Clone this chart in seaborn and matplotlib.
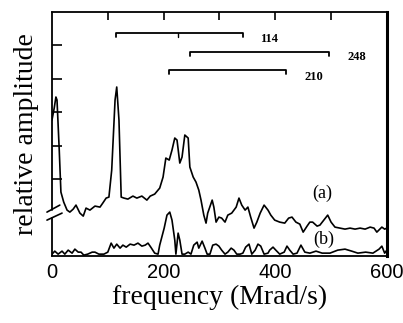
import matplotlib
matplotlib.use("Agg")
import matplotlib.pyplot as plt
import seaborn as sns
import pandas as pd

# ---- data (y in arbitrary units 0..244) ----
freq_a = [0, 4, 7, 9, 13, 16, 21, 27, 32, 38, 43, 50, 56, 61, 68, 77, 86, 91, 97, 102,
          107, 113, 116, 120, 124, 129, 136, 145, 152, 161, 170, 176, 184, 190, 193, 199,
          204, 210, 215, 220, 224, 229, 233, 238, 244, 247, 253, 258, 263, 267, 272, 276,
          279, 287, 290, 294, 299, 304, 310, 315, 322, 330, 335, 340, 346, 351, 356, 362,
          367, 373, 380, 387, 392, 399, 408, 417, 424, 430, 437, 444, 450, 457, 462, 467,
          475, 480, 487, 494, 500, 507, 516, 525, 534, 543, 552, 561, 570, 577, 582, 591,
          596, 600]
amp_a = [136, 148, 159, 156, 106, 64, 54, 46, 44, 47, 51, 43, 40, 48, 46, 50, 49, 53, 58, 59,
         86, 156, 169, 136, 59, 58, 57, 60, 58, 60, 56, 60, 62, 66, 68, 79,
         98, 96, 106, 118, 116, 93, 99, 121, 118, 89, 79, 74, 66, 56, 41, 33,
         43, 56, 49, 34, 39, 38, 34, 41, 43, 49, 58, 51, 46, 49, 39, 28,
         34, 43, 51, 46, 41, 36, 34, 33, 38, 39, 34, 32, 24, 30, 34, 34,
         30, 31, 36, 41, 34, 29, 28, 27, 28, 27, 28, 27, 29, 28, 24, 29,
         27, 28]

freq_b = [0, 5, 11, 18, 23, 29, 36, 41, 47, 52, 57, 64, 72, 77, 84, 93, 100, 106, 111, 116,
          122, 127, 133, 140, 147, 154, 161, 167, 172, 177, 184, 190, 193, 201, 206, 211,
          215, 220, 222, 226, 229, 233, 238, 244, 249, 254, 260, 263, 269, 274, 278, 283,
          288, 294, 299, 304, 310, 315, 321, 326, 331, 337, 342, 347, 353, 358, 364, 369,
          374, 380, 387, 390, 396, 401, 408, 416, 421, 426, 432, 439, 446, 453, 462, 473,
          484, 498, 512, 525, 537, 548, 562, 575, 586, 591, 596, 600]
amp_b = [2, 5, 2, 5, 2, 6, 3, 7, 4, 4, 1, 2, 4, 4, 2, 2, 4, 13, 8, 12,
         8, 11, 9, 12, 11, 13, 10, 11, 13, 9, 3, 2, 11, 28, 41, 44,
         36, 16, 2, 23, 16, 2, 2, 4, 2, 11, 14, 8, 15, 8, 2, 2,
         11, 12, 10, 6, 2, 4, 8, 6, 2, 2, 3, 9, 12, 2, 6, 12,
         10, 2, 3, 6, 9, 6, 2, 4, 10, 6, 2, 3, 11, 4, 3, 5,
         3, 3, 6, 7, 5, 3, 4, 3, 7, 10, 3, 6]

bracket_labels = ["114", "248", "210"]
bracket_start = [114, 248, 210]
bracket_end = [342, 496, 420]
bracket_level = [223, 204, 186]
bracket_label_x = [373, 530, 453]
bracket_label_y = [216.5, 198.5, 179.5]

xtick_vals = [0, 200, 400, 600]
top_tick_vals = [100, 200, 300, 400, 500]
left_tick_vals = [77, 110, 144, 177, 211]

# ---- figure ----
sns.set_style("white")
plt.rcParams["font.family"] = ["Liberation Serif", "DejaVu Serif"]
plt.rcParams["text.color"] = "black"
plt.rcParams["axes.labelcolor"] = "black"
plt.rcParams["xtick.color"] = "black"
plt.rcParams["ytick.color"] = "black"

fig = plt.figure(figsize=(4.03, 3.23), dpi=100)
ax = fig.add_axes([0.129, 0.207, 0.831, 0.756])

df_a = pd.DataFrame({"f": freq_a, "amp": amp_a})
df_b = pd.DataFrame({"f": freq_b, "amp": amp_b})
sns.lineplot(data=df_a, x="f", y="amp", ax=ax, color="black", lw=1.2, sort=False)
sns.lineplot(data=df_b, x="f", y="amp", ax=ax, color="black", lw=1.2, sort=False)

ax.set_xlim(0, 600)
ax.set_ylim(0, 244)

# spines
for s in ["top", "bottom"]:
    ax.spines[s].set_linewidth(1.3)
    ax.spines[s].set_color("black")
ax.spines["right"].set_linewidth(2.2)
ax.spines["right"].set_color("black")
ax.spines["left"].set_visible(False)
ytr = ax.get_yaxis_transform()
ax.plot([0, 0], [0, 38.5], transform=ytr, color="black", lw=1.3, clip_on=False)
ax.plot([0, 0], [46.5, 244], transform=ytr, color="black", lw=1.3, clip_on=False)
# axis break marks
ax.plot([-9, 14], [44, 51], color="black", lw=1.2, clip_on=False)
ax.plot([-9, 18], [36, 43], color="black", lw=1.2, clip_on=False)

# ticks
ax.set_xticks(xtick_vals)
ax.set_xticklabels([str(v) for v in xtick_vals], family="Liberation Sans", fontsize=14.5,
                   color="black")
ax.tick_params(axis="x", direction="in", length=0, pad=5)
ax.set_yticks(left_tick_vals)
ax.set_yticklabels([])
ax.tick_params(axis="y", direction="in", length=7, width=1.2, left=True, color="black")
top = ax.secondary_xaxis("top")
top.set_xticks(top_tick_vals)
top.set_xticklabels([])
top.tick_params(direction="in", length=5.5, width=1.2, color="black")
top.spines["top"].set_visible(False)

ax.set_xlabel("frequency (Mrad/s)", fontsize=20, labelpad=2, color="black")
ax.set_ylabel("relative amplitude", fontsize=20, labelpad=6, color="black")

# brackets
for x0, x1, yl in zip(bracket_start, bracket_end, bracket_level):
    ax.plot([x0, x0, x1, x1], [yl - 4, yl, yl, yl - 4], color="black", lw=1.3)
ax.plot([226, 226], [223, 219], color="black", lw=1.0)
for lab, lx, ly in zip(bracket_labels, bracket_label_x, bracket_label_y):
    ax.text(lx, ly, lab, fontsize=9, fontweight="bold", va="center", ha="left",
            color="black")

ax.text(485, 62.5, "(a)", fontsize=13, ha="center", va="center", color="black")
ax.text(487, 16.5, "(b)", fontsize=13, ha="center", va="center", color="black")

fig.savefig("out.png", dpi=100)
